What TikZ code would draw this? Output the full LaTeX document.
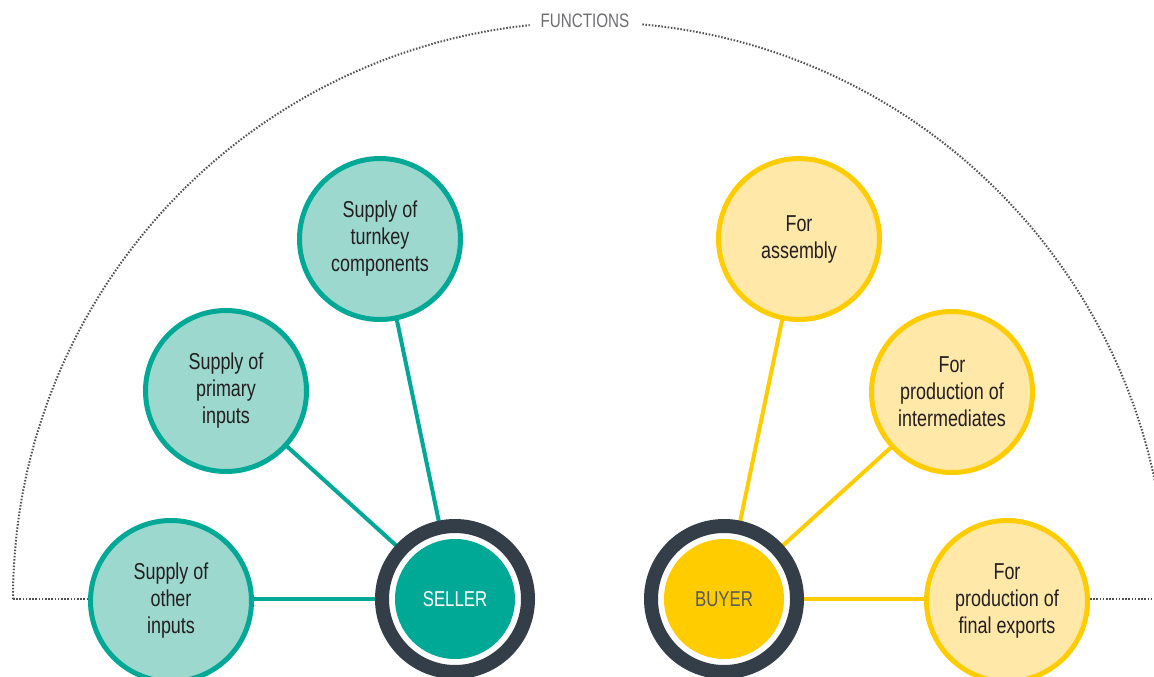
\documentclass[tikz,border=0pt]{standalone}
\usepackage{fontspec}
\setmainfont{Liberation Sans}[FakeStretch=0.78]
\usetikzlibrary{backgrounds}
\definecolor{tealA}{HTML}{00A896}
\definecolor{tealL}{HTML}{9DD8CF}
\definecolor{yelA}{HTML}{FFCC00}
\definecolor{yelL}{HTML}{FFE8A8}
\definecolor{darkring}{HTML}{343E48}
\definecolor{txtc}{HTML}{231F20}
\definecolor{buytxt}{HTML}{58595B}
\definecolor{dotc}{HTML}{505050}
\definecolor{funcc}{HTML}{6D6E71}
\begin{document}
\begin{tikzpicture}[x=1pt,y=-1pt,
  fnode/.style={circle, line width=5pt, minimum size=161pt, inner sep=0pt, align=center, text=txtc, font=\fontsize{23}{27}\selectfont},
  supnode/.style={fnode, draw=tealA, fill=tealL},
  buynode/.style={fnode, draw=yelA, fill=yelL},
  ringnode/.style={circle, draw=darkring, line width=14pt, fill=white, minimum size=146pt, inner sep=0pt},
  corenode/.style={circle, minimum size=120pt, inner sep=0pt, font=\fontsize{21.5}{25}\selectfont},
  tlink/.style={draw=tealA, line width=4pt},
  ylink/.style={draw=yelA, line width=4pt},
  dotline/.style={draw=dotc, line width=2pt, dash pattern=on 1.5pt off 1.7pt}]
\useasboundingbox (0,0) rectangle (1154,677);
\clip (0,0) rectangle (1154,677);
% outer functions arc
\coordinate (arcC) at (590,599);
\coordinate (arcL) at (13,599);
\coordinate (edgeR) at (1154,599);
\node[text=funcc, font=\fontsize{19.5}{21}\selectfont, inner sep=0pt] (funclabel) at (585,21) {FUNCTIONS};
\draw[dotline] (arcL) arc[start angle=180, end angle=264.0, radius=577];
\draw[dotline] (arcC) ++(275.2:577) arc[start angle=275.2, end angle=360, radius=577];
% seller side
\node[supnode] (other) at (171,601) {Supply of\\other\\inputs};
\node[supnode] (primary) at (226,391) {Supply of\\primary\\inputs};
\node[supnode] (turnkey) at (380,239) {Supply of\\turnkey\\components};
\node[ringnode] (sellring) at (455,599) {};
\node[corenode, fill=tealA, text=white] (seller) at (455,599) {SELLER};
% buyer side
\node[buynode] (assembly) at (799,239) {For\\assembly};
\node[buynode] (interm) at (952,392) {For\\production of\\intermediates};
\node[buynode] (exports) at (1007,601) {For\\production of\\final exports};
\node[ringnode] (buyring) at (724,599) {};
\node[corenode, fill=yelA, text=buytxt] (buyer) at (724,599) {BUYER};
% dotted ends
\draw[dotline] (arcL) -- (arcL -| other.west);
\draw[dotline] (edgeR -| exports.east) -- (edgeR);
% connectors
\begin{scope}[on background layer]
\draw[tlink] (seller.center) -- (seller.center -| other.center);
\draw[tlink] (seller.center) -- (primary.center);
\draw[tlink] (seller.center) -- (turnkey.center);
\draw[ylink] (buyer.center) -- (assembly.center);
\draw[ylink] (buyer.center) -- (interm.center);
\draw[ylink] (buyer.center) -- (buyer.center -| exports.center);
\end{scope}
\end{tikzpicture}
\end{document}
